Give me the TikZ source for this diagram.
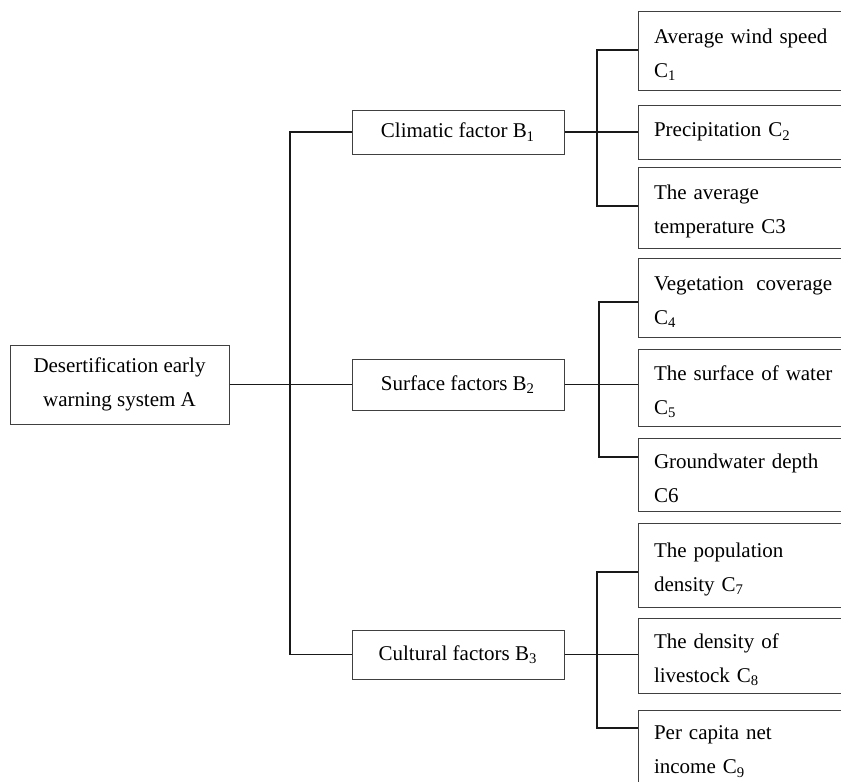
\documentclass[tikz,border=0pt]{standalone}
\usepackage{fontspec}
\setmainfont{Liberation Serif}
\newcommand{\dn}{\rule{0pt}{11.5pt}}
\begin{document}
\begin{tikzpicture}[x=0.5pt,y=-0.5pt,
  font=\fontsize{10.5}{17}\selectfont,
  box/.style={draw=black!75, line width=0.5pt, inner sep=0pt, align=center},
  cbox/.style={draw=black!75, line width=0.5pt, inner ysep=0pt, inner xsep=8pt,
     minimum width=111pt, text width=95pt, align=left},
  conn/.style={draw=black!90, line width=0.65pt}]
\useasboundingbox (0,0) rectangle (841,782);
\clip (0,0) rectangle (841,782);
\fill[white] (0,0) rectangle (841,782);
% level A
\node[box, minimum width=109.5pt, minimum height=39.5pt] (a) at (119.5,384.5) {Desertification early\\warning system A};
% level B
\node[box, minimum width=106pt, minimum height=22pt] (b1) at (458,132) {Climatic factor B\textsubscript{1}};
\node[box, minimum width=106pt, minimum height=25.5pt] (b2) at (458,384.5) {Surface factors B\textsubscript{2}};
\node[box, minimum width=106pt, minimum height=24.5pt] (b3) at (458,654.5) {Cultural factors B\textsubscript{3}};
% level C
\node[cbox, minimum height=39.5pt] (c1) at (749,50.5) {\dn Average wind speed\\C\textsubscript{1}};
\node[cbox, minimum height=27pt] (c2) at (749,132) {Precipitation C\textsubscript{2}};
\node[cbox, minimum height=40.5pt] (c3) at (749,207.5) {\dn The average\\temperature C3};
\node[cbox, minimum height=39.5pt] (c4) at (749,297.5) {\dn Vegetation\hspace{0.6em}coverage\\C\textsubscript{4}};
\node[cbox, minimum height=38.5pt] (c5) at (749,387.5) {\dn The surface of water\\C\textsubscript{5}};
\node[cbox, minimum height=36.5pt] (c6) at (749,474.5) {\dn Groundwater depth\\C6};
\node[cbox, minimum height=42pt] (c7) at (749,565) {\dn The population\\density C\textsubscript{7}};
\node[cbox, minimum height=37.5pt] (c8) at (749,655.5) {\dn The density of\\livestock C\textsubscript{8}};
\node[cbox, minimum height=37pt] (c9) at (749,747) {\dn Per capita net\\income C\textsubscript{9}};
% trunk coordinates
\coordinate (ta) at (290,132);
\coordinate (tb) at (290,654.5);
\coordinate (t1a) at (597,50);
\coordinate (t1b) at (597,206);
\coordinate (t2a) at (599,302);
\coordinate (t2b) at (599,457);
\coordinate (t3a) at (597,572);
\coordinate (t3b) at (597,728);
% A -> B
\draw[conn] (a.east) -- (b2.west);
\draw[conn] (b1.west) -- (ta) -- (tb) -- (b3.west);
% B1 -> C
\draw[conn] (b1.east) -- (b1.east -| c2.west);
\draw[conn] (t1a -| c1.west) -- (t1a) -- (t1b) -- (t1b -| c3.west);
% B2 -> C
\draw[conn] (b2.east) -- (b2.east -| c5.west);
\draw[conn] (t2a -| c4.west) -- (t2a) -- (t2b) -- (t2b -| c6.west);
% B3 -> C
\draw[conn] (b3.east) -- (b3.east -| c8.west);
\draw[conn] (t3a -| c7.west) -- (t3a) -- (t3b) -- (t3b -| c9.west);
\end{tikzpicture}
\end{document}
